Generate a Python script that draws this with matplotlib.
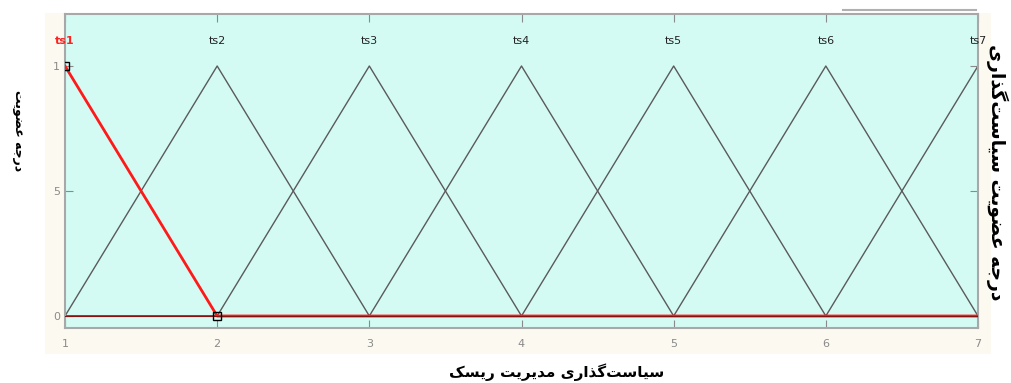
#!/usr/bin/env python3
# -*- coding: utf-8 -*-

"""
membership functions ts1..ts7 (fuzzy editor style)
"""

import numpy as np
import matplotlib as mpl
import matplotlib.pyplot as plt
from matplotlib.lines import Line2D
from matplotlib.patches import Rectangle

# data
mf_names = ['ts1', 'ts2', 'ts3', 'ts4', 'ts5', 'ts6', 'ts7']
mf_params = [[0, 1, 2], [1, 2, 3], [2, 3, 4], [3, 4, 5],
             [4, 5, 6], [5, 6, 7], [6, 7, 8]]
selected = 0
x_range = [1, 7]
x_ticks = [1, 2, 3, 4, 5, 6, 7]
y_ticks = [0, 0.5, 1]
y_ticklabels = ['0', '5', '1']
xlabel = 'سیاست‌گذاری مدیریت ریسک'
ylabel = 'درجه عضویت'
ylabel_right = 'درجه عضویت سیاست‌گذاری'


# crude persian shaping (matplotlib has no bidi / joining)
FORMS = {  # isolated, final, initial, medial
    'ا': ('\uFE8D', '\uFE8E', None, None),
    'د': ('\uFEA9', '\uFEAA', None, None),
    'ذ': ('\uFEAB', '\uFEAC', None, None),
    'ر': ('\uFEAD', '\uFEAE', None, None),
    'و': ('\uFEED', '\uFEEE', None, None),
    'س': ('\uFEB1', '\uFEB2', '\uFEB3', '\uFEB4'),
    'ت': ('\uFE95', '\uFE96', '\uFE97', '\uFE98'),
    'م': ('\uFEE1', '\uFEE2', '\uFEE3', '\uFEE4'),
    'ج': ('\uFE9D', '\uFE9E', '\uFE9F', '\uFEA0'),
    'ه': ('\uFEE9', '\uFEEA', '\uFEEB', '\uFEEC'),
    'ع': ('\uFEC9', '\uFECA', '\uFECB', '\uFECC'),
    'ض': ('\uFEBD', '\uFEBE', '\uFEBF', '\uFEC0'),
    'ی': ('\uFBFC', '\uFBFD', '\uFBFE', '\uFBFF'),
    'گ': ('\uFB92', '\uFB93', '\uFB94', '\uFB95'),
    'ک': ('\uFB8E', '\uFB8F', '\uFB90', '\uFB91'),
}


def shape(txt):
    out = []
    for i, c in enumerate(txt):
        if c not in FORMS:
            if c != '\u200c':
                out.append(c)
            continue
        prev = txt[i - 1] if i > 0 else ''
        nxt = txt[i + 1] if i + 1 < len(txt) else ''
        join_prev = prev in FORMS and FORMS[prev][2] is not None
        join_next = nxt in FORMS and FORMS[c][2] is not None
        f = FORMS[c]
        if join_prev and join_next:
            out.append(f[3])
        elif join_prev:
            out.append(f[1])
        elif join_next:
            out.append(f[2])
        else:
            out.append(f[0])
    return ''.join(out[::-1])


def trimf(x, p):
    a, b, c = p
    return np.maximum(np.minimum((x - a) / (b - a), (c - x) / (c - b)), 0)


if __name__ == "__main__":
    fig = plt.figure(figsize=(10.11, 3.83), dpi=100)
    fig.patch.set_facecolor('white')
    # cream panel behind the axes
    fig.patches.append(Rectangle((0.045, 0.075), 0.935, 0.89, transform=fig.transFigure,
                                 facecolor='#fcf9f0', edgecolor='none', zorder=-5))
    fig.lines.append(Line2D([0.834, 0.965], [0.973, 0.973], transform=fig.transFigure,
                            color='#b0b0b0', lw=1.5))

    ax1 = fig.add_axes([65 / 1011, 1 - 328 / 383, 913 / 1011, 314 / 383])
    ax1.set_zorder(2)
    ax1.set_facecolor('#d3fbf4')
    x = np.linspace(x_range[0], x_range[1], 1201)

    for i, p in enumerate(mf_params):
        if i == selected:
            continue
        ax1.plot(x, trimf(x, p), color='#5a5a5a', lw=1)

    # selected one in red
    p = mf_params[selected]
    ax1.plot(x, trimf(x, p), color='#ff1a1a', lw=2, zorder=5)
    ax1.plot([p[1], p[2]], [1, 0], ls='none', marker='s', ms=6, mfc='none',
             mec='black', mew=1, zorder=6)
    ax1.axhline(0, xmin=0, xmax=1, color='#8a1010', lw=0.8, zorder=5.5)

    for i, p in enumerate(mf_params):
        ax1.text(p[1], 1.1, mf_names[i], ha='center', va='center', fontsize=8,
                 color='#ff2020' if i == selected else '#222222',
                 fontweight='bold' if i == selected else 'normal')

    ax1.set_xlim(x_range)
    ax1.set_ylim(-0.048, 1.208)
    ax1.set_xticks(x_ticks)
    ax1.set_yticks(y_ticks)
    ax1.set_yticklabels(y_ticklabels)
    ax1.tick_params(direction='in', colors='#8a8a8a', labelsize=8, length=6,
                    top=True, right=True, labeltop=False, labelright=False)
    ax1.tick_params(axis='x', pad=8)
    for s in ax1.spines.values():
        s.set_color('#a8a8a8')
        s.set_linewidth(1.5)

    fig.text(557 / 1011, 1 - 372 / 383, shape(xlabel), ha='center', va='center',
             fontsize=11, fontweight='bold', family='DejaVu Sans')
    fig.text(18 / 1011, 1 - 131 / 383, shape(ylabel), ha='center', va='center',
             rotation=270, fontsize=9, fontweight='bold', family='DejaVu Sans')
    fig.text(997 / 1011, 1 - 172 / 383, shape(ylabel_right), ha='center', va='center',
             rotation=270, fontsize=13.5, fontweight='bold', family='DejaVu Sans')

    plt.savefig('out.png', dpi=100)
